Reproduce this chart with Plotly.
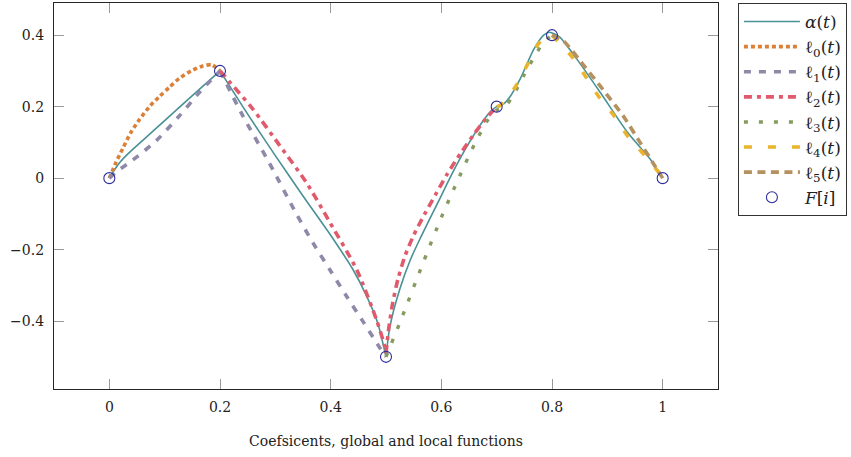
import plotly.graph_objects as go

# ---- data ----
alpha_x = [0, 0.01, 0.02, 0.035, 0.06, 0.1, 0.15, 0.2,
           0.25, 0.3, 0.35, 0.4, 0.44, 0.465, 0.485, 0.5,
           0.507, 0.525, 0.545, 0.562, 0.598, 0.622, 0.646, 0.67, 0.69, 0.7, 0.712, 0.725,
           0.743, 0.767, 0.785, 0.795, 0.805, 0.815, 0.845, 0.888, 0.936, 0.978, 1.0]
alpha_y = [0, 0.025, 0.046, 0.07, 0.105, 0.161, 0.231, 0.30,
           0.179, 0.063, -0.05, -0.16, -0.255, -0.33, -0.405, -0.5,
           -0.416, -0.31, -0.225, -0.168, -0.055, 0.02, 0.088, 0.148, 0.188, 0.2, 0.207, 0.23,
           0.279, 0.36, 0.40, 0.408, 0.403, 0.393, 0.333, 0.238, 0.129, 0.052, 0]

l0_x = [0, 0.012, 0.024, 0.039, 0.054, 0.072, 0.091, 0.109, 0.127, 0.148, 0.169, 0.185, 0.2]
l0_y = [0, 0.044, 0.082, 0.128, 0.163, 0.199, 0.229, 0.255, 0.28, 0.300, 0.314, 0.317, 0.30]

l1_x = [0, 0.015, 0.042, 0.085, 0.127, 0.163, 0.2,
        0.241, 0.29, 0.338, 0.368, 0.4, 0.429, 0.46, 0.489, 0.5]
l1_y = [0, 0.02, 0.05, 0.105, 0.175, 0.24, 0.3,
        0.175, 0.04, -0.1, -0.181, -0.26, -0.331, -0.405, -0.475, -0.5]

l2_x = [0.2, 0.217, 0.259, 0.308, 0.356, 0.399, 0.447, 0.483, 0.498, 0.5,
        0.505, 0.512, 0.522, 0.535, 0.55, 0.57, 0.59, 0.61, 0.635, 0.66, 0.68, 0.7]
l2_y = [0.3, 0.27, 0.194, 0.091, -0.012, -0.125, -0.256, -0.397, -0.472, -0.49,
        -0.42, -0.35, -0.28, -0.215, -0.16, -0.1, -0.045, 0.01, 0.07, 0.125, 0.165, 0.2]

l3_x = [0.5, 0.53, 0.565, 0.6, 0.63, 0.66, 0.685, 0.7, 0.715, 0.73, 0.75, 0.77, 0.785, 0.8]
l3_y = [-0.5, -0.385, -0.245, -0.11, -0.005, 0.095, 0.165, 0.19, 0.2, 0.232, 0.29, 0.345, 0.38, 0.4]

l4_x = [0.7, 0.707, 0.734, 0.755, 0.776, 0.79, 0.8,
        0.836, 0.861, 0.885, 0.912, 0.936, 0.965, 0.993, 1.0]
l4_y = [0.2, 0.204, 0.256, 0.316, 0.377, 0.396, 0.4,
        0.34, 0.284, 0.227, 0.175, 0.119, 0.068, 0.016, 0]

l5_x = [0.8, 0.82, 0.857, 0.888, 0.93, 0.957, 0.984, 1.0]
l5_y = [0.4, 0.385, 0.316, 0.256, 0.171, 0.105, 0.039, 0]

F_x = [0, 0.2, 0.5, 0.7, 0.8, 1.0]
F_y = [0, 0.3, -0.5, 0.2, 0.4, 0]

x_ticks = [0, 0.2, 0.4, 0.6, 0.8, 1]
x_labels = ["0", "0.2", "0.4", "0.6", "0.8", "1"]
y_ticks = [-0.4, -0.2, 0, 0.2, 0.4]
y_labels = ["\u22120.4", "\u22120.2", "0", "0.2", "0.4"]

FONT = "DejaVu Serif"

curves = [
    ("<i>\u03b1</i>(<i>t</i>)", alpha_x, alpha_y, [0.2, 0.5], "#4a9196", 1.6, "solid"),
    ("\u2113<sub>0</sub>(<i>t</i>)", l0_x, l0_y, [], "#dd8037", 3.6, "4px,3px"),
    ("\u2113<sub>1</sub>(<i>t</i>)", l1_x, l1_y, [0.2], "#8e89a9", 3.6, "7px,8px"),
    ("\u2113<sub>2</sub>(<i>t</i>)", l2_x, l2_y, [0.5], "#e05a6c", 3.6, "8px,5px,4px,5px"),
    ("\u2113<sub>3</sub>(<i>t</i>)", l3_x, l3_y, [], "#879b5f", 3.4, "4px,11px"),
    ("\u2113<sub>4</sub>(<i>t</i>)", l4_x, l4_y, [0.8], "#ebb42d", 3.6, "8px,16px"),
    ("\u2113<sub>5</sub>(<i>t</i>)", l5_x, l5_y, [], "#b4915f", 3.6, "8px,5.5px"),
]


def split(xs, ys, breaks):
    segs = []
    cur_x, cur_y = [], []
    for x, y in zip(xs, ys):
        cur_x.append(x)
        cur_y.append(y)
        if x in breaks:
            segs.append((cur_x, cur_y))
            cur_x, cur_y = [x], [y]
    if len(cur_x) > 1:
        segs.append((cur_x, cur_y))
    return segs


fig = go.Figure()
for gi, (name, xs, ys, brk, color, width, dash) in enumerate(curves):
    for si, (sx, sy) in enumerate(split(xs, ys, brk)):
        fig.add_trace(go.Scatter(
            x=sx, y=sy, mode="lines", name=name,
            legendgroup="g%d" % gi, showlegend=(si == 0),
            line=dict(color=color, width=width, dash=dash, shape="spline", smoothing=0.7),
        ))

fig.add_trace(go.Scatter(
    x=F_x, y=F_y, mode="markers", name="<i>F</i>[<i>i</i>]", legendgroup="gF",
    marker=dict(symbol="circle-open", size=11, color="#2d2d9e", line=dict(width=1.1, color="#2d2d9e")),
))

axis_common = dict(
    showgrid=False, zeroline=False, showline=True, linecolor="#262626", linewidth=1.2,
    mirror="ticks", ticks="inside", ticklen=10, tickcolor="#9a9a9a", tickwidth=1,
    tickfont=dict(family=FONT, size=14, color="#222"),
)

fig.update_layout(
    width=851, height=457,
    margin=dict(l=54, r=133, t=3, b=68),
    paper_bgcolor="white", plot_bgcolor="white",
    font=dict(family=FONT, size=14, color="#222"),
    xaxis=dict(range=[-0.1, 1.1], tickvals=x_ticks, ticktext=x_labels, ticklabelstandoff=5,
               title=dict(text="Coefsicents, global and local functions",
                          font=dict(family=FONT, size=14, color="#222"), standoff=22),
               **axis_common),
    yaxis=dict(range=[-0.59, 0.49], tickvals=y_ticks, ticktext=y_labels, ticklabelstandoff=6,
               **axis_common),
    legend=dict(x=1.03, xanchor="left", y=1.0, yanchor="top",
                bgcolor="white", bordercolor="#333", borderwidth=1,
                font=dict(family=FONT, size=17, color="#222"),
                itemwidth=56, tracegroupgap=2, traceorder="normal"),
    showlegend=True,
)

fig.write_html("out.html")
